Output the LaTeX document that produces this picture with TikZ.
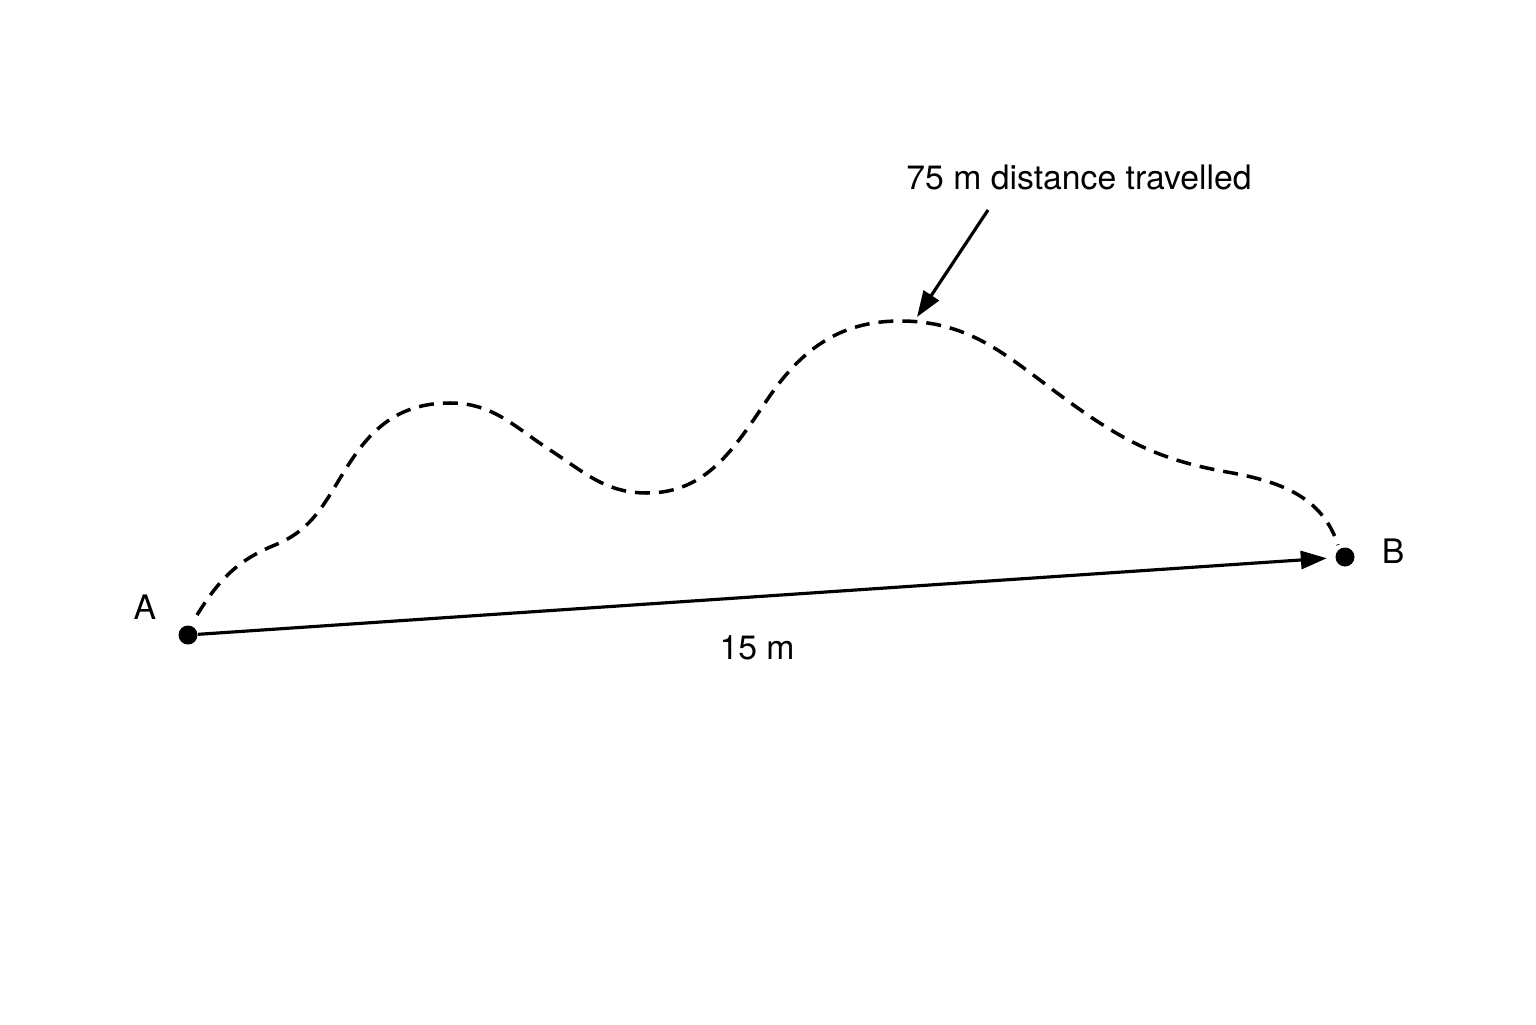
\documentclass[tikz,border=0pt]{standalone}
\usepackage{fontspec}
\setmainfont{TeX Gyre Heros}
\usepackage{tikz}
\usetikzlibrary{arrows.meta, positioning, calc}
\tikzstyle{arrow} = [-{Triangle[length=2.6mm, width=1.8mm]}, line width=0.9pt]
\tikzstyle{dot} = [circle, fill=black, inner sep=0pt, minimum size=0.19cm]
\tikzstyle{path} = [line width=1pt, dash pattern=on 1.5mm off 0.9mm]

\begin{document}
\begin{tikzpicture}[font=\fontsize{9.6}{11}\selectfont]
    \useasboundingbox (0,0) rectangle (15.36,10.24);

    % End points
    \node[dot] (A) at (1.88, 3.89) {};
    \node[dot] (B) at (13.45, 4.67) {};
    \node (A_label) at (1.45, 4.17) {A};
    \node (B_label) at (13.93, 4.73) {B};

    % Displacement
    \draw[arrow, shorten >=0.08cm] (A) -- (B);
    \node (disp) at (7.57, 3.76) {15 m};

    % Distance travelled
    \draw[path] (1.97,4.09)
        to[out=58, in=202] (2.75,4.79)
        to[out=22, in=235] (3.55,5.69)
        to[out=55, in=180] (4.50,6.21)
        to[out=0, in=147] (5.50,5.74)
        to[out=-33, in=180] (6.47,5.31)
        to[out=0, in=236] (7.67,6.24)
        to[out=56, in=180] (9.00,7.03)
        to[out=0, in=144] (10.68,6.23)
        to[out=-36, in=170] (12.27,5.52)
        to[out=-10, in=108] (13.38,4.79);

    \node (dist) at (10.79, 8.47) {75 m distance travelled};
    \coordinate (ptr_start) at (9.88, 8.14);
    \coordinate (ptr_end) at (9.17, 7.07);
    \draw[arrow] (ptr_start) -- (ptr_end);

\end{tikzpicture}
\end{document}
